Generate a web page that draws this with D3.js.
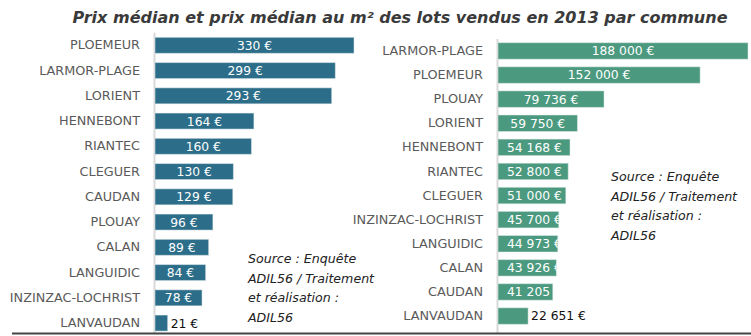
<!DOCTYPE html>
<html>
<head>
<meta charset="utf-8">
<script src="https://cdn.jsdelivr.net/npm/d3@7"></script>
<style>
  html, body { margin: 0; padding: 0; background: #fff; }
  svg { display: block; }
  text { font-family: "DejaVu Sans", sans-serif; }
</style>
</head>
<body>
<svg id="chart" width="751" height="336"></svg>
<script>
// Prix médian au m² (left panel)
const communesM2 = ["PLOEMEUR", "LARMOR-PLAGE", "LORIENT", "HENNEBONT", "RIANTEC", "CLEGUER",
  "CAUDAN", "PLOUAY", "CALAN", "LANGUIDIC", "INZINZAC-LOCHRIST", "LANVAUDAN"];
const prixM2 = [330, 299, 293, 164, 160, 130, 129, 96, 89, 84, 78, 21];

// Prix médian des lots (right panel)
const communesLot = ["LARMOR-PLAGE", "PLOEMEUR", "PLOUAY", "LORIENT", "HENNEBONT", "RIANTEC",
  "CLEGUER", "INZINZAC-LOCHRIST", "LANGUIDIC", "CALAN", "CAUDAN", "LANVAUDAN"];
const prixLot = [188000, 152000, 79736, 59750, 54168, 52800, 51000, 45700, 44973, 43926, 41205, 22651];

const titre = "Prix médian et prix médian au m² des lots vendus en 2013 par commune";
const sourceLignes = ["Source : Enquête", "ADIL56 / Traitement", "et réalisation :", "ADIL56"];

const fr = d3.formatLocale({ decimal: ",", thousands: " ", grouping: [3], currency: ["", " €"] });
const fmt = v => fr.format(",d")(v) + " €";

const svg = d3.select("#chart");

svg.append("text")
  .attr("x", 400).attr("y", 23)
  .attr("text-anchor", "middle")
  .attr("font-size", 15.5)
  .attr("font-style", "italic")
  .attr("font-weight", "bold")
  .attr("fill", "#3a3a3a")
  .attr("textLength", 655)
  .attr("lengthAdjust", "spacingAndGlyphs")
  .text(titre);

function panel(opts) {
  const { id, cats, vals, x0, xMax, domainMax, yRange, padInner, color, labelSize } = opts;
  const g = svg.append("g");
  const x = d3.scaleLinear().domain([0, domainMax]).range([x0, xMax]);
  const y = d3.scaleBand().domain(cats).range(yRange).paddingInner(padInner).paddingOuter(padInner / 2);

  // category axis (light vertical line, no ticks)
  g.append("line")
    .attr("x1", x0 - 0.5).attr("x2", x0 - 0.5)
    .attr("y1", yRange[0]).attr("y2", 333)
    .attr("stroke", "#d9d9d9").attr("stroke-width", 2);

  const yAxis = d3.axisLeft(y).tickSize(0).tickPadding(15);
  const ax = g.append("g").attr("transform", `translate(${x0},0)`).call(yAxis);
  ax.select(".domain").remove();
  ax.selectAll("text")
    .attr("font-family", "DejaVu Sans, sans-serif")
    .attr("font-size", labelSize)
    .attr("fill", "#5a5a5a");

  const defs = svg.append("defs");
  cats.forEach((c, i) => {
    defs.append("clipPath").attr("id", `${id}-clip-${i}`)
      .append("rect")
      .attr("x", x(0)).attr("y", y(c))
      .attr("width", x(vals[i]) - x(0)).attr("height", y.bandwidth());
  });

  g.selectAll("rect.bar").data(vals).join("rect")
    .attr("class", "bar")
    .attr("x", x(0))
    .attr("y", (d, i) => y(cats[i]))
    .attr("width", d => x(d) - x(0))
    .attr("height", y.bandwidth())
    .attr("fill", color)
    .attr("stroke", "#e8eef0").attr("stroke-opacity", 0.5).attr("stroke-width", 1);

  g.selectAll("text.val").data(vals).join("text")
    .attr("class", "val")
    .attr("y", (d, i) => y(cats[i]) + y.bandwidth() / 2)
    .attr("dy", "0.36em")
    .attr("font-size", 12.3)
    .text(d => fmt(d))
    .each(function (d, i) {
      const t = d3.select(this);
      const w = this.getComputedTextLength();
      const bw = x(d) - x(0);
      if (bw < 36) {
        t.attr("x", x(d) + 3).attr("fill", "#111").attr("text-anchor", "start");
      } else {
        const cx = Math.max(x(0) + bw / 2, x(0) + 9 + w / 2);
        t.attr("x", cx).attr("text-anchor", "middle").attr("fill", "#fff")
          .attr("clip-path", `url(#${id}-clip-${i})`);
      }
    });
  return g;
}

panel({ id: "m2", cats: communesM2, vals: prixM2, x0: 155, xMax: 354, domainMax: 330,
  yRange: [32.7, 335.7], padInner: 0.366, color: "#2c6e89", labelSize: 12.8 });
panel({ id: "lot", cats: communesLot, vals: prixLot, x0: 498, xMax: 748, domainMax: 188000,
  yRange: [38.9, 328.1], padInner: 0.315, color: "#4b9a7f", labelSize: 12.8 });

// base line
svg.append("line")
  .attr("x1", 12).attr("x2", 751).attr("y1", 333.5).attr("y2", 333.5)
  .attr("stroke", "#444").attr("stroke-width", 2);

function source(xPos, yPos) {
  svg.append("g").selectAll("text").data(sourceLignes).join("text")
    .attr("x", xPos).attr("y", (d, i) => yPos + i * 19.5)
    .attr("font-size", 12.6).attr("font-style", "italic").attr("fill", "#222")
    .text(d => d);
}
source(248, 263);
source(611, 181);
</script>
</body>
</html>
